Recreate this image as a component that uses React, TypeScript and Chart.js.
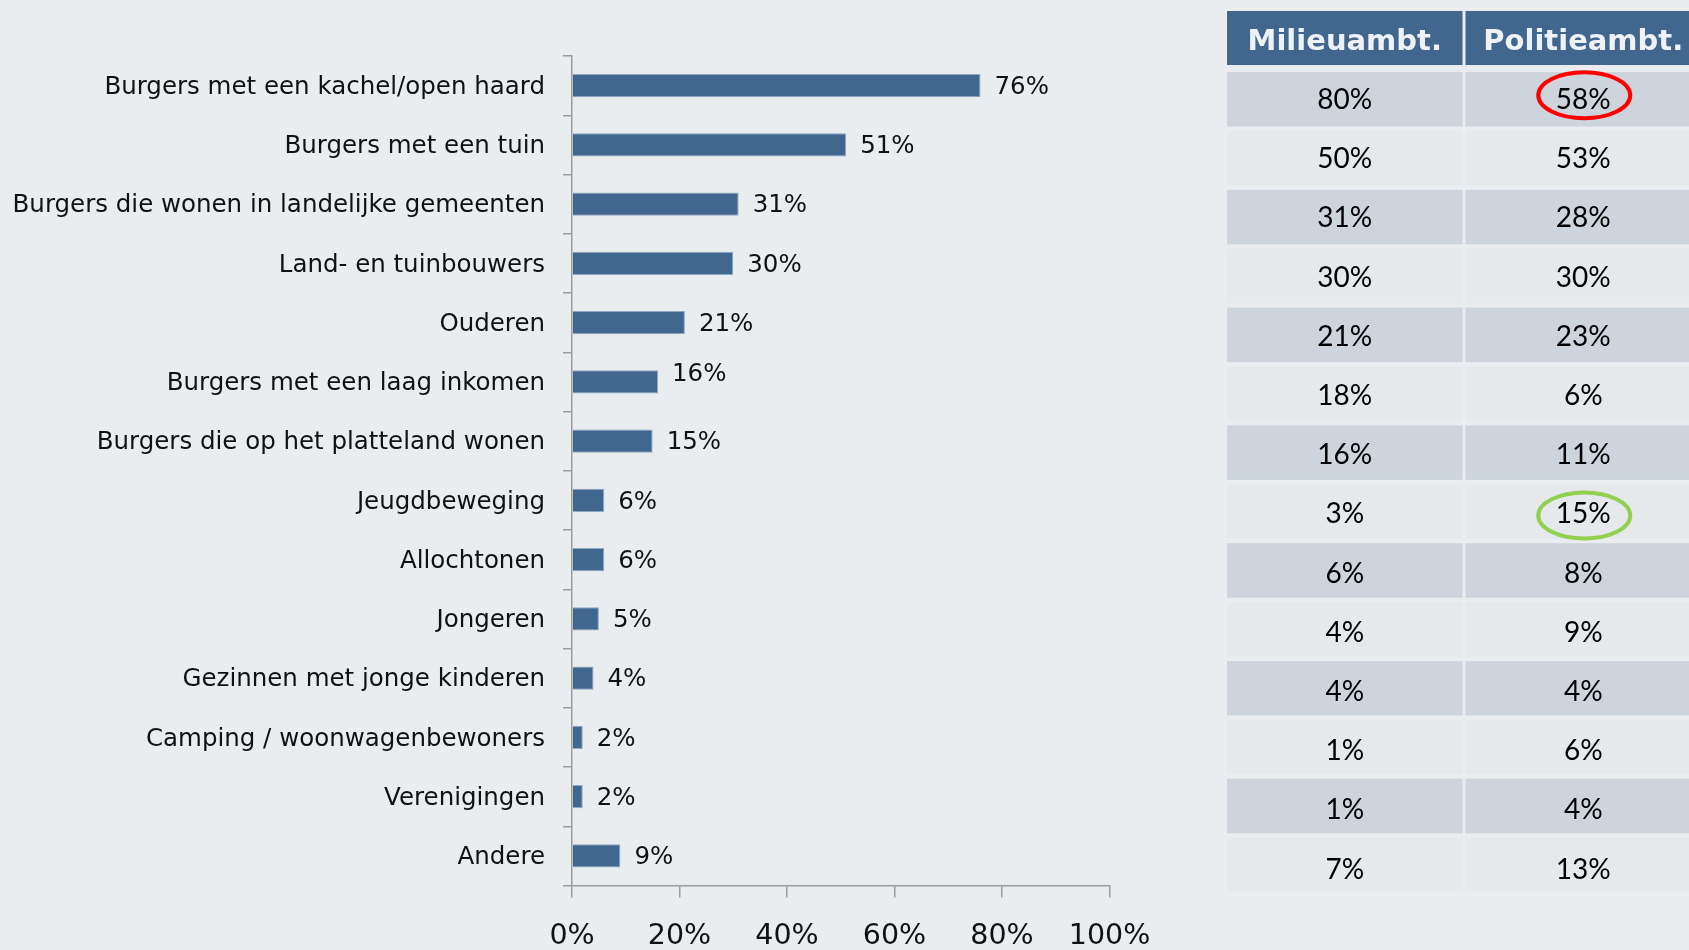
import React, { useEffect, useRef } from "react";
import { Chart, registerables } from "chart.js";

Chart.register(...registerables);

// ---------- data ----------
const categories = [
  "Burgers met een kachel/open haard",
  "Burgers met een tuin",
  "Burgers die wonen in landelijke gemeenten",
  "Land- en tuinbouwers",
  "Ouderen",
  "Burgers met een laag inkomen",
  "Burgers die op het platteland wonen",
  "Jeugdbeweging",
  "Allochtonen",
  "Jongeren",
  "Gezinnen met jonge kinderen",
  "Camping / woonwagenbewoners",
  "Verenigingen",
  "Andere",
];
const shares = [76, 51, 31, 30, 21, 16, 15, 6, 6, 5, 4, 2, 2, 9];
const tableHeaders = ["Milieuambt.", "Politieambt."];
const milieuValues = [80, 50, 31, 30, 21, 18, 16, 3, 6, 4, 4, 1, 1, 7];
const politieValues = [58, 53, 28, 30, 23, 6, 11, 15, 8, 9, 4, 6, 4, 13];
const xTickValues = [0, 20, 40, 60, 80, 100];
const highlights = [
  { row: 0, col: 1, color: "#FF0000", dy: -4 },
  { row: 7, col: 1, color: "#92D050", dy: 4 },
];

// ---------- layout / style ----------
const W = 1689;
const H = 950;
const BG = "#E9EDEF";
const BAR = "#41678F";
const AXIS = "#9C9C9C";
const FONT = "'DejaVu Sans', Verdana, sans-serif";

const PLOT_LEFT = 572;
const PLOT_RIGHT = 1109.5;
const PLOT_TOP = 56;
const PLOT_BOTTOM = 885.5;

const TABLE_COL_LEFT = [1227, 1465.5];
const TABLE_COL_W = 235.5;
const HEADER_TOP = 11;
const HEADER_H = 54;
const ROW_TOP = 72;
const ROW_PITCH = 58.9;
const ROW_H = 54.5;
const TEXT_TOP = 100;
const TEXT_PITCH = 59.2;
const HEADER_BG = "#41678F";
const HEADER_FG = "#EEF2F6";
const ROW_DARK = "#CDD4DC";
const ROW_LIGHT = "#E5E9EC";

const labelShift: Record<number, number> = { 5: -9 };

const valueLabelPlugin = {
  id: "valueLabels",
  afterDatasetsDraw(chart: any) {
    const ctx = chart.ctx;
    const meta = chart.getDatasetMeta(0);
    ctx.save();
    ctx.font = `24.5px ${FONT}`;
    ctx.fillStyle = "#111";
    ctx.textAlign = "left";
    ctx.textBaseline = "middle";
    meta.data.forEach((bar: any, i: number) => {
      const shift = labelShift[i] || 0;
      ctx.fillText(`${shares[i]}%`, bar.x + 14, bar.y + 2 + shift);
    });
    ctx.restore();
  },
};

const tablePlugin = {
  id: "sideTable",
  afterDraw(chart: any) {
    const ctx = chart.ctx;
    ctx.save();
    // header
    tableHeaders.forEach((h, j) => {
      ctx.fillStyle = HEADER_BG;
      ctx.fillRect(TABLE_COL_LEFT[j], HEADER_TOP, TABLE_COL_W, HEADER_H);
      ctx.fillStyle = HEADER_FG;
      ctx.font = `bold 29px ${FONT}`;
      ctx.textAlign = "center";
      ctx.textBaseline = "middle";
      ctx.fillText(h, TABLE_COL_LEFT[j] + TABLE_COL_W / 2, HEADER_TOP + HEADER_H / 2 + 4);
    });
    const cols = [milieuValues, politieValues];
    for (let i = 0; i < categories.length; i++) {
      const top = ROW_TOP + i * ROW_PITCH;
      cols.forEach((vals, j) => {
        ctx.fillStyle = i % 2 === 0 ? ROW_DARK : ROW_LIGHT;
        ctx.fillRect(TABLE_COL_LEFT[j], top, TABLE_COL_W, ROW_H);
      });
    }
    for (let i = 0; i < categories.length; i++) {
      const ty = TEXT_TOP + i * TEXT_PITCH;
      cols.forEach((vals, j) => {
        ctx.fillStyle = "#000";
        ctx.font = `28px Lato, 'Open Sans', sans-serif`;
        ctx.textAlign = "center";
        ctx.textBaseline = "middle";
        ctx.fillText(`${vals[i]}%`, TABLE_COL_LEFT[j] + TABLE_COL_W / 2, ty);
      });
    }
    // highlight ellipses
    highlights.forEach((hl) => {
      const cx = TABLE_COL_LEFT[hl.col] + TABLE_COL_W / 2 + 1;
      const cy = ROW_TOP + hl.row * ROW_PITCH + ROW_H / 2 + hl.dy;
      ctx.beginPath();
      ctx.ellipse(cx, cy, 46, 23, 0, 0, Math.PI * 2);
      ctx.strokeStyle = hl.color;
      ctx.lineWidth = 4;
      ctx.stroke();
    });
    ctx.restore();
  },
};

export default function App() {
  const ref = useRef<HTMLCanvasElement>(null);

  useEffect(() => {
    const canvas = ref.current;
    if (!canvas) return;
    const chart = new Chart(canvas, {
      type: "bar",
      data: {
        labels: categories,
        datasets: [
          {
            data: shares,
            backgroundColor: BAR,
            borderColor: "#8EA7C2",
            borderWidth: 1,
            categoryPercentage: 1,
            barPercentage: 0.39,
          },
        ],
      },
      options: {
        indexAxis: "y",
        responsive: false,
        animation: false,
        layout: {
          padding: { left: 0, top: PLOT_TOP, right: W - PLOT_RIGHT, bottom: 0 },
        },
        plugins: {
          legend: { display: false },
          tooltip: { enabled: false },
        },
        scales: {
          x: {
            min: 0,
            max: 100,
            afterBuildTicks: (scale: any) => {
              scale.ticks = xTickValues.map((v) => ({ value: v }));
            },
            afterFit: (scale: any) => {
              scale.height = H - PLOT_BOTTOM;
            },
            grid: {
              display: true,
              drawOnChartArea: false,
              drawTicks: true,
              tickLength: 12,
              color: AXIS,
              lineWidth: 1.5,
            },
            border: { display: true, color: AXIS, width: 1.5 },
            ticks: {
              callback: (v: any) => `${v}%`,
              font: { family: FONT, size: 28.5 },
              color: "#111",
              padding: 22,
              maxRotation: 0,
            },
          },
          y: {
            type: "category",
            afterFit: (scale: any) => {
              scale.width = PLOT_LEFT;
            },
            grid: {
              display: true,
              offset: true,
              drawOnChartArea: false,
              drawTicks: true,
              tickLength: 9,
              color: AXIS,
              lineWidth: 1.5,
            },
            border: { display: true, color: AXIS, width: 1.5 },
            ticks: {
              font: { family: FONT, size: 24.5 },
              color: "#111",
              padding: 18,
              labelOffset: 2,
              autoSkip: false,
            },
          },
        },
      },
      plugins: [valueLabelPlugin, tablePlugin],
    } as any);
    return () => chart.destroy();
  }, []);

  return (
    <div
      style={{
        position: "absolute",
        left: 0,
        top: 0,
        width: W,
        height: H,
        background: BG,
        overflow: "hidden",
      }}
    >
      <canvas ref={ref} width={W} height={H} style={{ display: "block" }} />
    </div>
  );
}
